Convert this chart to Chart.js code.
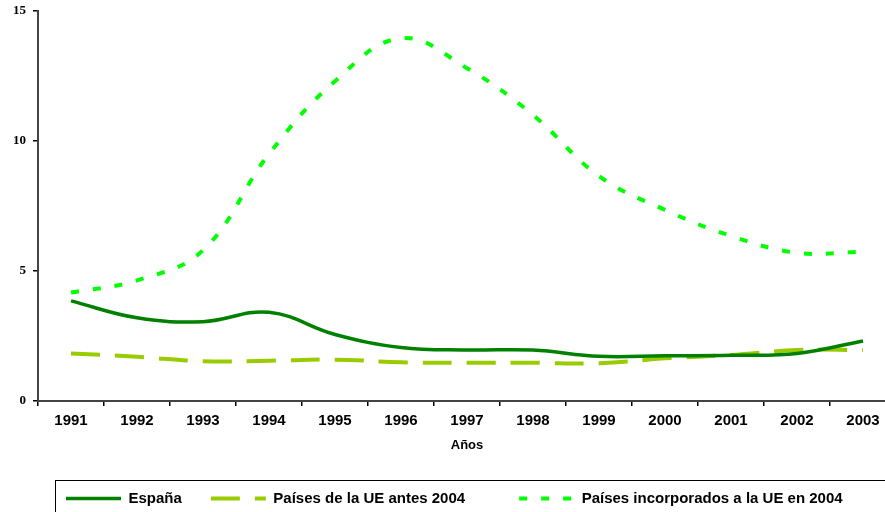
<!DOCTYPE html>
<html>
<head>
<meta charset="utf-8">
<script src="https://cdn.jsdelivr.net/npm/chart.js@4.4.0/dist/chart.umd.min.js"></script>
<style>
  html, body { margin: 0; padding: 0; background: #fff; overflow: hidden; }
  #wrap { position: relative; width: 900px; height: 520px; }
</style>
</head>
<body>
<div id="wrap"><canvas id="chart" width="900" height="520"></canvas></div>
<script>
const years = ["1991", "1992", "1993", "1994", "1995", "1996", "1997", "1998", "1999", "2000", "2001", "2002", "2003"];
const espana = [3.85, 3.2, 3.05, 3.41, 2.56, 2.06, 1.96, 1.96, 1.72, 1.74, 1.76, 1.83, 2.31];
const ueAntes2004 = [1.83, 1.7, 1.53, 1.55, 1.59, 1.49, 1.47, 1.47, 1.45, 1.64, 1.77, 1.96, 1.96];
const incorporados2004 = [4.17, 4.64, 5.8, 9.5, 12.3, 13.95, 12.8, 11.0, 8.65, 7.35, 6.35, 5.7, 5.74];
const yTicks = [0, 5, 10, 15];

const sans = "'Liberation Sans', Arial, sans-serif";

// legend sits a bit to the right and has a frame, like the original
const legendFrame = {
  id: "legendFrame",
  afterLayout(chart) {
    chart.legend.left += 37;
  },
  afterDraw(chart) {
    const lg = chart.legend;
    const ctx = chart.ctx;
    ctx.save();
    ctx.strokeStyle = "#000";
    ctx.lineWidth = 1;
    ctx.strokeRect(lg.left + 18.5, lg.top + 18.5, lg.width, 40);
    ctx.restore();
  }
};

// extra room after each legend entry (the original spreads them unevenly)
const legendSpacing = [0, 6, 0];

const ctx = document.getElementById("chart").getContext("2d");
new Chart(ctx, {
  type: "line",
  data: {
    labels: years,
    datasets: [
      {
        label: "España",
        data: espana,
        borderColor: "#008000",
        borderWidth: 3.5,
        tension: 0.4,
        pointRadius: 0
      },
      {
        label: "Países de la UE antes 2004",
        data: ueAntes2004,
        borderColor: "#99CC00",
        borderWidth: 4,
        borderDash: [29, 15],
        tension: 0.4,
        pointRadius: 0
      },
      {
        label: "Países incorporados a la UE en 2004",
        data: incorporados2004,
        borderColor: "#00FF00",
        borderWidth: 4,
        borderDash: [8, 14],
        tension: 0.4,
        pointRadius: 0
      }
    ]
  },
  options: {
    responsive: false,
    animation: false,
    devicePixelRatio: 1,
    layout: { padding: { top: 11, left: 0, right: 4, bottom: 4 } },
    plugins: {
      tooltip: { enabled: false },
      legend: {
        position: "bottom",
        align: "start",
        labels: {
          usePointStyle: true,
          pointStyle: "line",
          pointStyleWidth: 55,
          padding: 29,
          color: "#000",
          font: { family: sans, size: 15, weight: "bold" },
          generateLabels: (chart) => chart.data.datasets.map((ds, i) => ({
            text: ds.label + "\u00a0".repeat(legendSpacing[i]),
            strokeStyle: ds.borderColor,
            fillStyle: ds.borderColor,
            lineWidth: ds.borderWidth,
            lineDash: ds.borderDash || [],
            pointStyle: "line",
            fontColor: "#000",
            hidden: false,
            datasetIndex: i
          }))
        }
      }
    },
    scales: {
      x: {
        offset: true,
        grid: { display: true, offset: true, drawOnChartArea: false, tickLength: 5, color: "#000", lineWidth: 1.5 },
        border: { color: "#444", width: 2 },
        ticks: { color: "#000", padding: 6, maxRotation: 0, font: { family: sans, size: 15, weight: "bold" } },
        title: {
          display: true,
          text: "Años",
          color: "#000",
          padding: { top: 4, bottom: 9 },
          font: { family: sans, size: 13, weight: "bold" }
        },
        afterFit: (s) => { s.height = 61; }
      },
      y: {
        min: 0,
        max: 15,
        grid: { display: true, drawOnChartArea: false, tickLength: 5, color: "#000", lineWidth: 1.5 },
        border: { color: "#444", width: 2 },
        ticks: { color: "#000", padding: 7, font: { family: "'Liberation Serif', 'Times New Roman', serif", size: 13, weight: "bold" } },
        afterBuildTicks: (s) => { s.ticks = yTicks.map((v) => ({ value: v })); },
        afterFit: (s) => { s.width = 38; s.paddingTop = 0; s.paddingBottom = 0; }
      }
    }
  },
  plugins: [legendFrame]
});
</script>
</body>
</html>
